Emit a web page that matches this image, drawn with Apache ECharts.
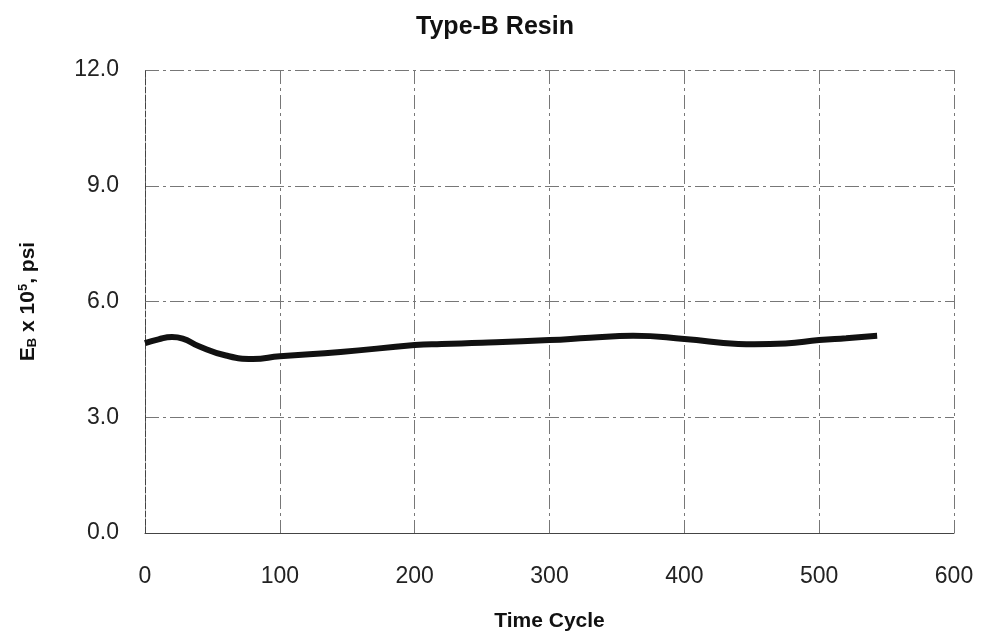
<!DOCTYPE html>
<html>
<head>
<meta charset="utf-8">
<script src="https://cdn.jsdelivr.net/npm/echarts@6/dist/echarts.min.js"></script>
<style>
  html, body { margin: 0; padding: 0; background: #fff; }
  #chart { width: 987px; height: 640px; }
</style>
</head>
<body>
<div id="chart"></div>
<script>
// data
var cycles = [0, 10, 20, 28, 40, 60, 80, 100, 145, 200, 220, 250, 300, 330, 362, 400, 440, 452, 475, 500, 520, 543];
var modulus = [4.92, 5.02, 5.08, 5.04, 4.84, 4.60, 4.51, 4.58, 4.69, 4.87, 4.90, 4.93, 5.00, 5.06, 5.11, 5.03, 4.90, 4.89, 4.91, 5.00, 5.05, 5.11];
var yTicks = ['0.0', '3.0', '6.0', '9.0', '12.0'];

var myChart = echarts.init(document.getElementById('chart'));

var points = [];
for (var i = 0; i < cycles.length; i++) {
    points.push([cycles[i], modulus[i]]);
}

var option = {
    backgroundColor: '#fff',
    animation: false,
    title: {
        text: 'Type-B Resin',
        left: 490,
        top: 10,
        textAlign: 'center',
        textStyle: { fontFamily: 'Liberation Sans', fontSize: 25, fontWeight: 'bold', color: '#111' }
    },
    grid: { left: 145, right: 33, top: 70, bottom: 107 },
    xAxis: {
        type: 'value',
        min: 0, max: 600, interval: 100,
        name: 'Time Cycle',
        nameLocation: 'middle',
        nameGap: 78,
        nameTextStyle: { fontFamily: 'Liberation Sans', fontSize: 21, fontWeight: 'bold', color: '#111' },
        axisLine: { show: true, lineStyle: { color: '#444', width: 1 } },
        axisTick: { show: false },
        axisLabel: { fontFamily: 'Liberation Sans', fontSize: 23, color: '#222', margin: 32 },
        splitLine: { show: true, lineStyle: { color: '#777', width: 1, type: [14, 4, 3, 4] } }
    },
    yAxis: {
        type: 'value',
        min: 0, max: 12, interval: 3,
        name: '{t|E}{s|B}{t| x 10}{p|5}{t|, psi}',
        nameLocation: 'middle',
        nameRotate: 90,
        nameGap: 106,
        nameTextStyle: {
            rich: {
                t: { fontFamily: 'Liberation Sans', fontSize: 21, fontWeight: 'bold', color: '#111' },
                s: { fontFamily: 'Liberation Sans', fontSize: 13, fontWeight: 'bold', color: '#111', verticalAlign: 'bottom', padding: [9, 0, 0, 0] },
                p: { fontFamily: 'Liberation Sans', fontSize: 13, fontWeight: 'bold', color: '#111', verticalAlign: 'top', padding: [0, 0, 9, 0] }
            }
        },
        axisLine: { show: true, lineStyle: { color: '#444', width: 1, type: [6, 2] } },
        axisTick: { show: false },
        axisLabel: {
            fontFamily: 'Liberation Sans', fontSize: 23, color: '#222', margin: 26,
            formatter: function (v) { return yTicks[Math.round(v / 3)]; }
        },
        splitLine: { show: true, lineStyle: { color: '#777', width: 1, type: [14, 4, 3, 4] } }
    },
    series: [{
        type: 'line',
        data: points,
        smooth: 0.5,
        showSymbol: false,
        lineStyle: { color: '#111', width: 6 }
    }]
};
myChart.setOption(option);
</script>
</body>
</html>
